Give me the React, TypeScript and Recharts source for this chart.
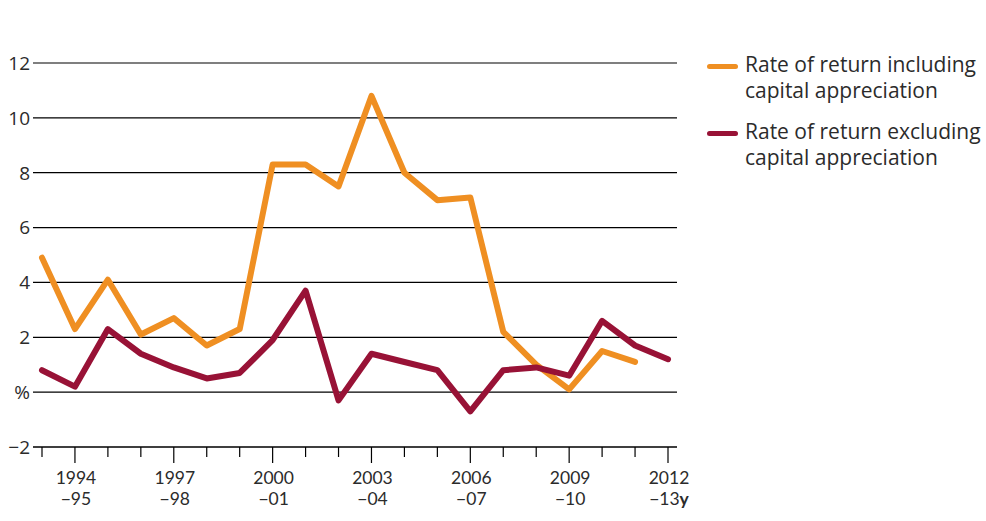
import React from 'react';
import { LineChart, Line, XAxis, YAxis, CartesianGrid } from 'recharts';

const years: string[] = [
  '1993-94', '1994-95', '1995-96', '1996-97', '1997-98', '1998-99', '1999-00',
  '2000-01', '2001-02', '2002-03', '2003-04', '2004-05', '2005-06', '2006-07',
  '2007-08', '2008-09', '2009-10', '2010-11', '2011-12', '2012-13',
];

// rate of return including capital appreciation (%)
const inclCapital: (number | null)[] = [
  4.9, 2.3, 4.1, 2.1, 2.7, 1.7, 2.3, 8.3, 8.3, 7.5,
  10.8, 8.0, 7.0, 7.1, 2.2, 1.0, 0.1, 1.5, 1.1, null,
];

// rate of return excluding capital appreciation (%)
const exclCapital: number[] = [
  0.8, 0.2, 2.3, 1.4, 0.9, 0.5, 0.7, 1.9, 3.7, -0.3,
  1.4, 1.1, 0.8, -0.7, 0.8, 0.9, 0.6, 2.6, 1.7, 1.2,
];

const yTicks: number[] = [-2, 0, 2, 4, 6, 8, 10, 12];

const legendItems = [
  { label: ['Rate of return including', 'capital appreciation'], color: '#EF8F22' },
  { label: ['Rate of return excluding', 'capital appreciation'], color: '#981236' },
];

const FONT = '"Open Sans", Lato, sans-serif';
const TICK_FONT = 'Lato, "Open Sans", sans-serif';
const TEXT = '#2b2b2b';

const data = years.map((y, i) => ({
  year: y,
  incl: inclCapital[i],
  excl: exclCapital[i],
}));

function XTick(props: any) {
  const { x, y, payload, index } = props;
  const major = index % 3 === 1;
  const [start, end] = String(payload.value).split('-');
  const last = index === years.length - 1;
  return (
    <g>
      <line x1={x} x2={x} y1={y} y2={y + (major ? 16 : 10)} stroke="#000" strokeWidth={1.2} />
      {major && (
        <>
          <text x={x + 1} y={y + 37} textAnchor="middle" fontFamily={TICK_FONT} fontSize={17.5} fill={TEXT}>
            {start}
          </text>
          <text x={x + 1} y={y + 58} textAnchor="middle" fontFamily={TICK_FONT} fontSize={17.5} fill={TEXT}>
            {'\u2212' + end}
            {last && <tspan fontWeight={700}>y</tspan>}
          </text>
        </>
      )}
    </g>
  );
}

function YTick(props: any) {
  const { x, y, payload } = props;
  const v = payload.value as number;
  const label = v === 0 ? '%' : v < 0 ? '\u2212' + Math.abs(v) : String(v);
  return (
    <text x={x} y={y} dy="0.36em" textAnchor="end" fontFamily={FONT} fontSize={19} fill={TEXT}>
      {label}
    </text>
  );
}

export default function App() {
  return (
    <div style={{ position: 'absolute', left: 0, top: 0, width: 986, height: 521, background: '#fff' }}>
      <LineChart
        width={986}
        height={521}
        data={data}
        margin={{ top: 63, right: 309, bottom: 44, left: 0 }}
      >
        <CartesianGrid vertical={false} stroke="#000" strokeWidth={1.2} />
        <XAxis
          dataKey="year"
          interval={0}
          height={30}
          padding={{ left: 9, right: 9 }}
          axisLine={{ stroke: '#000', strokeWidth: 1.2 }}
          tickLine={false}
          tickSize={0}
          tickMargin={0}
          tick={<XTick />}
        />
        <YAxis
          width={33}
          domain={[-2, 12]}
          ticks={yTicks}
          axisLine={false}
          tickLine={false}
          tickSize={0}
          tickMargin={3}
          tick={<YTick />}
        />
        <Line
          dataKey="incl"
          type="linear"
          stroke="#EF8F22"
          strokeWidth={6}
          strokeLinejoin="round"
          strokeLinecap="round"
          dot={false}
          activeDot={false}
          isAnimationActive={false}
        />
        <Line
          dataKey="excl"
          type="linear"
          stroke="#981236"
          strokeWidth={6}
          strokeLinejoin="round"
          strokeLinecap="round"
          dot={false}
          activeDot={false}
          isAnimationActive={false}
        />
      </LineChart>
      <div style={{ position: 'absolute', left: 707, top: 51, whiteSpace: 'nowrap' }}>
        {legendItems.map((item) => (
          <div key={item.label[0]} style={{ display: 'flex', alignItems: 'flex-start', marginBottom: 15 }}>
            <div style={{ width: 31, height: 5, background: item.color, borderRadius: 3, marginTop: 13, marginRight: 7, flex: 'none' }} />
            <div style={{ fontFamily: FONT, fontSize: 21, lineHeight: '26px', color: TEXT }}>
              <div>{item.label[0]}</div>
              <div>{item.label[1]}</div>
            </div>
          </div>
        ))}
      </div>
    </div>
  );
}
